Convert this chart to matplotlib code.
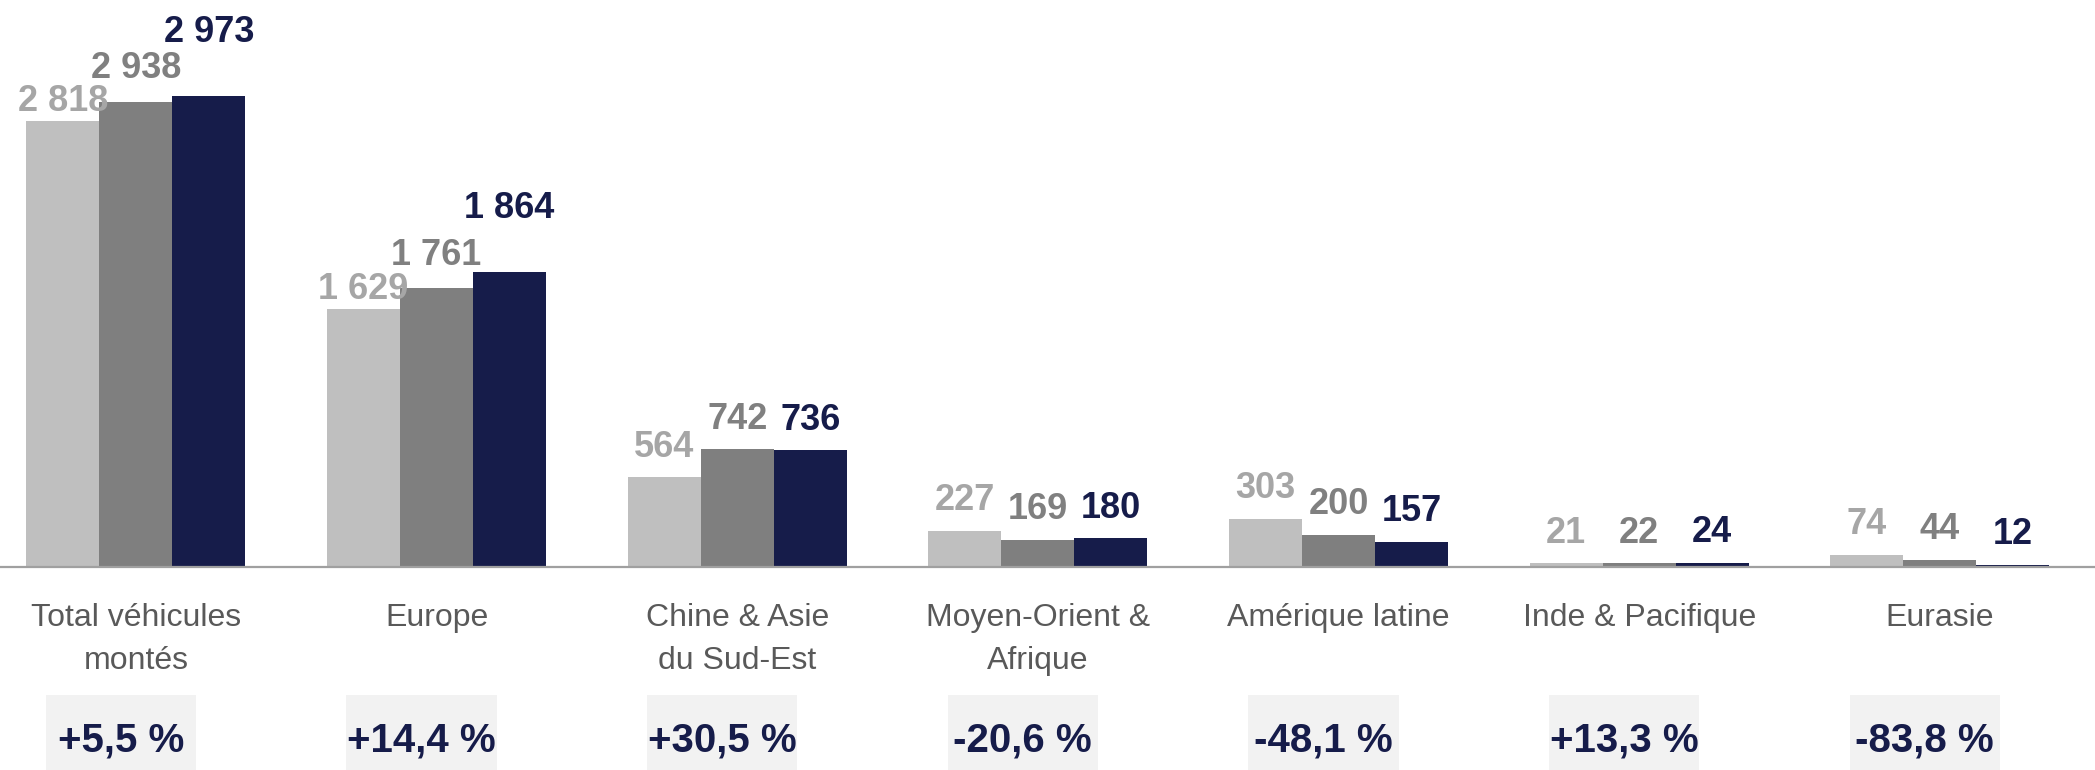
import matplotlib
matplotlib.use("Agg")
import matplotlib.pyplot as plt
import matplotlib.transforms as mtrans
from matplotlib.patches import Rectangle
import numpy as np

plt.rcParams['font.family'] = ['Liberation Sans', 'DejaVu Sans']

categories = ["Total véhicules\nmontés", "Europe", "Chine & Asie\ndu Sud-Est",
              "Moyen-Orient &\nAfrique", "Amérique latine", "Inde & Pacifique", "Eurasie"]
year1 = [2818, 1629, 564, 227, 303, 21, 74]
year2 = [2938, 1761, 742, 169, 200, 22, 44]
year3 = [2973, 1864, 736, 180, 157, 24, 12]
growth = ["+5,5 %", "+14,4 %", "+30,5 %", "-20,6 %", "-48,1 %", "+13,3 %", "-83,8 %"]

bar_colors = ["#BFBFBF", "#7F7F7F", "#161C4A"]
label_colors = ["#A6A6A6", "#808080", "#161C4A"]
navy = "#161C4A"

W, H = 2095, 770
fig = plt.figure(figsize=(W / 100, H / 100), dpi=100)
base_px = 203.5
ax = fig.add_axes([0, base_px / H, 1, 1 - base_px / H])
ax.set_xlim(-0.452, 6.516)
ax.set_ylim(0, 3580)
ax.axis("off")

x = np.arange(len(categories))
bw = 0.243
series = [year1, year2, year3]
for k, vals in enumerate(series):
    xs = x + (k - 1) * bw
    ax.bar(xs, vals, width=bw, color=bar_colors[k], linewidth=0, zorder=2)
    for i, v in enumerate(vals):
        # the two big groups have staggered labels
        if i < 2:
            off = [1, 11, 33][k]
        else:
            off = 9
        ax.annotate(f"{v:,}".replace(",", " "), (xs[i], v), xytext=(0, off),
                    textcoords="offset points", ha="center", va="bottom",
                    fontsize=26, fontweight="bold", color=label_colors[k])

ax.axhline(0, color="#A0A0A0", lw=1.6, zorder=3, clip_on=False)

tr = mtrans.blended_transform_factory(ax.transData, fig.transFigure)
for i, cat in enumerate(categories):
    ax.text(x[i], 1 - 603 / H, cat, transform=tr, ha="center", va="top",
            fontsize=23, color="#595959", linespacing=1.55, multialignment="center")
    bx = x[i] - 0.05
    ax.add_patch(Rectangle((bx - 0.25, 0), 0.5, 1 - 695 / H, transform=tr,
                           facecolor="#F2F2F2", edgecolor="none", clip_on=False))
    ax.text(bx, 1 - 740 / H, growth[i], transform=tr, ha="center", va="center",
            fontsize=29, fontweight="bold", color=navy)

fig.savefig("out.png", dpi=100)
